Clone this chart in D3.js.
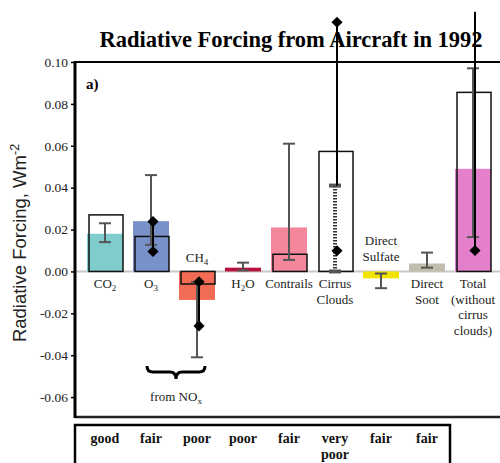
<!DOCTYPE html>
<html>
<head>
<meta charset="utf-8">
<script src="https://cdn.jsdelivr.net/npm/d3@7"></script>
<style>
  body { margin: 0; background: #fff; }
  text { font-family: "Liberation Serif", "Times New Roman", serif; }
</style>
</head>
<body>
<div class="plot"></div>
<script>
// categories and values
const categories = ["CO2", "O3", "CH4", "H2O", "Contrails", "Cirrus", "Sulfate", "Soot", "Total"];
const fillValues = [0.018, 0.024, -0.0136, 0.0018, 0.021, null, -0.0033, 0.0038, 0.049];
const outlineValues = [0.027, 0.0167, -0.006, null, 0.0082, 0.0573, null, null, 0.0855];
const errLow = [0.014, 0.0127, -0.041, 0.0005, 0.0055, 0, -0.008, 0.0018, 0.0164];
const errHigh = [0.023, 0.046, -0.005, 0.0042, 0.061, 0.041, -0.001, 0.009, 0.097];
const fillColors = ["#7fcccc", "#7891c8", "#f26b55", "#b8103d", "#f4879c", "none", "#f0e400", "#c2beae", "#e47fcc"];
// black lines joining the diamonds
const diamondLines = [
  {cat: "O3", from: 0.0238, to: 0.0095, marks: [0.0238, 0.0095]},
  {cat: "CH4", from: -0.0049, to: -0.026, marks: [-0.0049, -0.026]},
  {cat: "Cirrus", from: 0.119, to: 0.041, marks: [0.119, 0.0099]},
  {cat: "Total", from: 0.124, to: 0.01, marks: [0.01]}
];
const yTicks = [0.10, 0.08, 0.06, 0.04, 0.02, 0.00, -0.02, -0.04, -0.06];
const ratings = ["good", "fair", "poor", "poor", "fair", "very\npoor", "fair", "fair"];

const width = 500, height = 463;
const plotLeft = 75, plotTop = 62, plotBottom = 417;

const svg = d3.select('.plot').append('svg')
  .attr('width', width).attr('height', height);

const yScale = d3.scaleLinear().domain([-0.0695, 0.10]).range([plotBottom, plotTop]);
const xScale = d3.scalePoint().domain(categories).range([105, 473]);
const cx = i => xScale(categories[i]);

// zero line
svg.append('line')
  .attr('x1', plotLeft).attr('x2', width)
  .attr('y1', yScale(0)).attr('y2', yScale(0))
  .attr('stroke', '#c8c8c8').attr('stroke-width', 2);

// filled bars
svg.selectAll('.fillbar')
  .data(fillValues.map((v, i) => ({v, i})).filter(d => d.v !== null))
  .enter().append('rect')
  .attr('class', 'fillbar')
  .attr('x', d => cx(d.i) - 18)
  .attr('width', 36)
  .attr('y', d => yScale(Math.max(0, d.v)))
  .attr('height', d => Math.abs(yScale(d.v) - yScale(0)))
  .attr('fill', d => fillColors[d.i]);

// outline bars
svg.selectAll('.outbar')
  .data(outlineValues.map((v, i) => ({v, i})).filter(d => d.v !== null))
  .enter().append('rect')
  .attr('class', 'outbar')
  .attr('x', d => cx(d.i) - 16)
  .attr('width', 34)
  .attr('y', d => yScale(Math.max(0, d.v)))
  .attr('height', d => Math.abs(yScale(d.v) - yScale(0)))
  .attr('fill', 'none')
  .attr('stroke', '#111').attr('stroke-width', 1.5);

// error bars
const errG = svg.append('g').attr('stroke', '#555').attr('stroke-width', 2);
categories.forEach((c, i) => {
  const dotted = c === "Cirrus";
  errG.append('line')
    .attr('x1', cx(i)).attr('x2', cx(i))
    .attr('y1', yScale(errLow[i])).attr('y2', yScale(errHigh[i]))
    .attr('stroke', dotted ? '#333' : '#555')
    .attr('stroke-width', dotted ? 4 : 2)
    .attr('stroke-dasharray', dotted ? '1.5,1.5' : null);
  [errLow[i], errHigh[i]].forEach(v => {
    errG.append('line')
      .attr('x1', cx(i) - 6).attr('x2', cx(i) + 6)
      .attr('y1', yScale(v)).attr('y2', yScale(v))
      .attr('stroke-width', dotted ? 4 : 2);
  });
});

// black lines and diamonds
const diamond = d3.symbol().type(d3.symbolSquare).size(62);
diamondLines.forEach(d => {
  const x = xScale(d.cat) + 2;
  svg.append('line')
    .attr('x1', x).attr('x2', x)
    .attr('y1', yScale(d.from)).attr('y2', yScale(d.to))
    .attr('stroke', '#000').attr('stroke-width', 2);
  d.marks.forEach(v => {
    svg.append('path')
      .attr('d', diamond())
      .attr('transform', `translate(${x},${yScale(v)}) rotate(45)`)
      .attr('fill', '#000');
  });
});

// frame
svg.append('line').attr('x1', plotLeft).attr('x2', width).attr('y1', plotTop).attr('y2', plotTop)
  .attr('stroke', '#000').attr('stroke-width', 2);
svg.append('line').attr('x1', plotLeft).attr('x2', width).attr('y1', plotBottom).attr('y2', plotBottom)
  .attr('stroke', '#222').attr('stroke-width', 2.5);

// y axis
const yAxis = svg.append('g')
  .attr('transform', `translate(${plotLeft},0)`)
  .call(d3.axisLeft(yScale).tickValues(yTicks).tickSize(4).tickFormat(d3.format('.2f')));
yAxis.select('.domain').remove();
yAxis.selectAll('.tick line').attr('stroke', '#000').attr('stroke-width', 1.5);
yAxis.selectAll('.tick text')
  .attr('font-family', '"Liberation Serif", serif')
  .attr('font-size', 13.5).attr('fill', '#222').attr('x', -7)
  .text(d => d3.format('.2f')(d).replace('−', '-'));
svg.append('line').attr('x1', plotLeft).attr('x2', plotLeft).attr('y1', plotTop - 1).attr('y2', plotBottom + 1)
  .attr('stroke', '#000').attr('stroke-width', 3);

// y label
const yl = svg.append('text')
  .attr('transform', 'translate(26,243) rotate(-90)')
  .attr('text-anchor', 'middle')
  .style('font-family', '"Liberation Sans", Arial, sans-serif')
  .attr('font-size', 18.5).attr('fill', '#222');
yl.append('tspan').text('Radiative Forcing, Wm');
yl.append('tspan').attr('dy', -7).attr('font-size', 12.5).text('-2');

// title
svg.append('text')
  .attr('x', 291).attr('y', 47)
  .attr('text-anchor', 'middle')
  .attr('font-size', 22.5).attr('font-weight', 'bold')
  .text('Radiative Forcing from Aircraft in 1992');

svg.append('text').attr('x', 86).attr('y', 89)
  .attr('font-size', 15).attr('font-weight', 'bold').text('a)');

// category labels
function label(x, y, parts) {
  const t = svg.append('text').attr('x', x).attr('y', y)
    .attr('text-anchor', 'middle').attr('font-size', 13).attr('fill', '#222');
  parts.forEach(p => {
    const s = t.append('tspan').text(p[0]);
    if (p[1]) s.attr('font-size', 9).attr('dy', 3);
    if (p[2]) s.attr('dy', -3);
  });
}
const lab = (i, lines, y0) => lines.forEach((l, k) => label(cx(i), y0 + k * 15.5, l));
lab(0, [[["CO"], ["2", true]]], 288);
lab(1, [[["O"], ["3", true]]], 288);
lab(2, [[["CH"], ["4", true]]], 262);
lab(3, [[["H"], ["2", true], ["O", false, true]]], 288);
lab(4, [[["Contrails"]]], 288);
lab(5, [[["Cirrus"]], [["Clouds"]]], 288);
lab(6, [[["Direct"]], [["Sulfate"]]], 245);
lab(7, [[["Direct"]], [["Soot"]]], 288);
lab(8, [[["Total"]], [["(without"]], [["cirrus"]], [["clouds)"]]], 288);

// brace for NOx
svg.append('path')
  .attr('d', 'M147,366 q0,6 6,6 L170,372 q6,0 6,7 q0,-7 6,-7 L199,372 q6,0 6,-6')
  .attr('fill', 'none').attr('stroke', '#000').attr('stroke-width', 3);
label(176, 401, [["from NO"], ["x", true]]);

// rating table
svg.append('rect').attr('x', plotLeft).attr('y', 425).attr('width', 375).attr('height', 60)
  .attr('fill', 'none').attr('stroke', '#000').attr('stroke-width', 2.5);
ratings.forEach((r, i) => {
  r.split('\n').forEach((w, k) => {
    svg.append('text').attr('x', cx(i)).attr('y', 443 + k * 16)
      .attr('text-anchor', 'middle').attr('font-size', 14).attr('font-weight', 'bold')
      .attr('fill', '#111').text(w);
  });
});
</script>
</body>
</html>
